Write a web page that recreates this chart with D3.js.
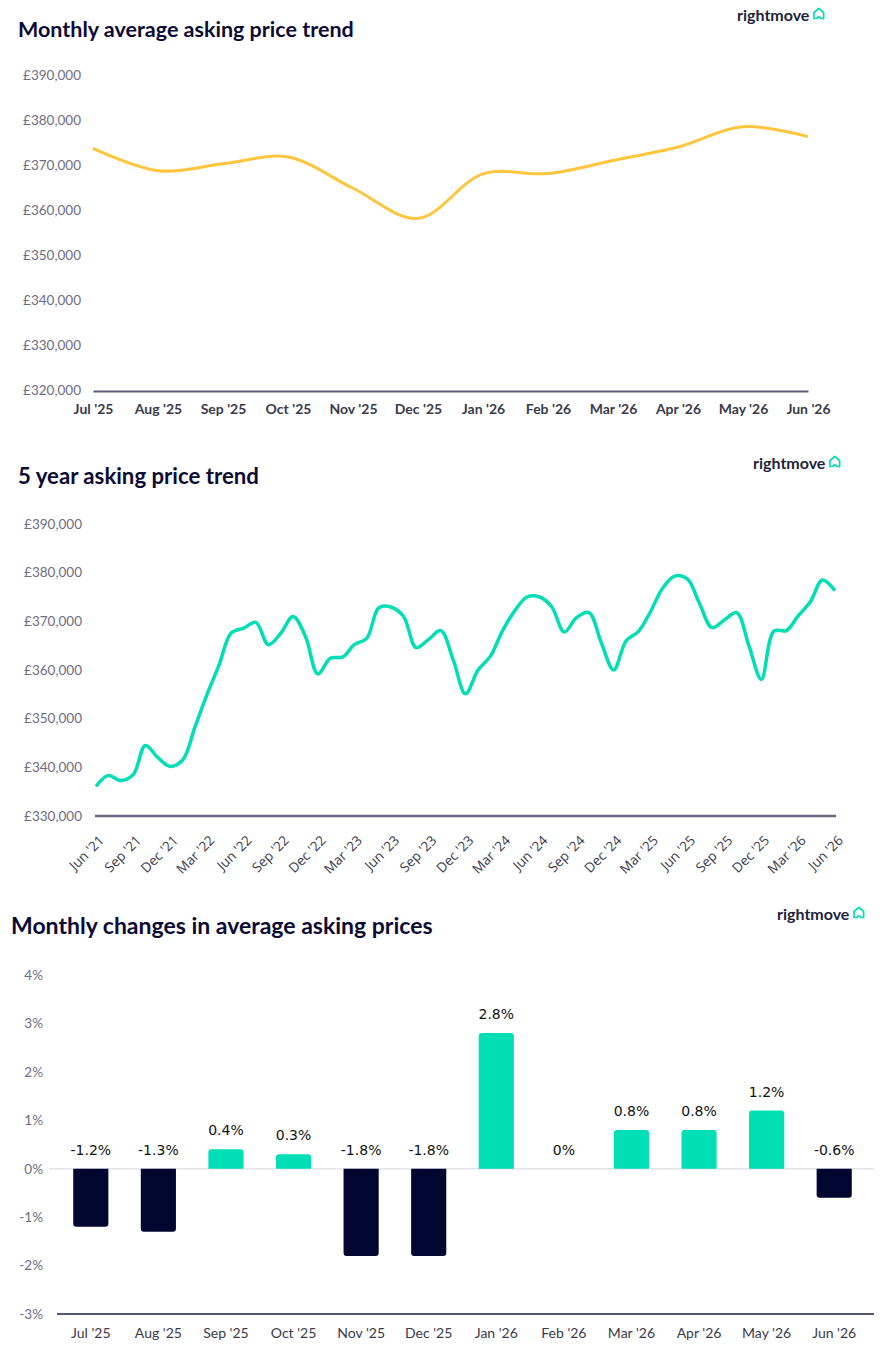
<!DOCTYPE html>
<html>
<head>
<meta charset="utf-8">
<script src="https://cdn.jsdelivr.net/npm/d3@7"></script>
<style>
  body { margin: 0; background: #fff; }
  svg text { font-family: Lato, "Open Sans", sans-serif; }
  .title { font-weight: 700; fill: #0b0b35; }
  .logo { font-size: 16px; font-weight: 700; fill: #23233a; }
  .ylab text { font-size: 13.5px; fill: #6e6d82; }
  .xlab text { font-size: 14px; fill: #3a3a4c; font-weight: 700; }
  .rot text { font-family: "Open Sans", sans-serif; font-size: 13.5px; fill: #3a3a4c; }
  .val { font-family: "DejaVu Sans", sans-serif !important; font-size: 14px; fill: #111; }
</style>
</head>
<body>
<div id="chart"></div>
<script>
// chart 1 – monthly average asking price
const monthLabels = ["Jul '25", "Aug '25", "Sep '25", "Oct '25", "Nov '25", "Dec '25",
                     "Jan '26", "Feb '26", "Mar '26", "Apr '26", "May '26", "Jun '26"];
const monthlyPrices = [373709, 368740, 370257, 371778, 364833, 358138,
                       368031, 368100, 371000, 374000, 378500, 376300];
const monthlyTicks = [320000, 330000, 340000, 350000, 360000, 370000, 380000, 390000];

// chart 2 – 5 year trend, one value a month from Jun '21 to Jun '26
const fiveYearStart = new Date(2021, 5, 1);
const fiveYearPrices = [
  336100, 338300, 337300, 338500, 344500, 342000, 340200, 341500, 348400, 354700,
  361000, 367600, 368600, 369800, 365200, 367600, 371000, 366800, 359200, 362400,
  362700, 365200, 366500, 372800, 372900, 371000, 364600, 366300, 368100, 362000,
  355100, 360000, 362900, 368000, 372200, 375000, 375000, 373000, 367800, 370800,
  371800, 365500, 360000, 366000, 368000, 371800, 376800, 379300, 378700, 373700,
  368700, 370300, 371800, 364800, 358100, 368000, 368100, 371000, 374000, 378500,
  376300];
const fiveYearTicks = [330000, 340000, 350000, 360000, 370000, 380000, 390000];

// chart 3 – monthly % change
const monthlyChanges = [-1.2, -1.3, 0.4, 0.3, -1.8, -1.8, 2.8, 0, 0.8, 0.8, 1.2, -0.6];
const changeTicks = [-3, -2, -1, 0, 1, 2, 3, 4];

const width = 890, height = 1364;
const svg = d3.select("#chart").append("svg")
    .attr("width", width)
    .attr("height", height);

const poundFmt = d => "£" + d3.format(",")(d);

function addLogo(x, y) {
  const g = svg.append("g").attr("transform", `translate(${x},${y})`);
  g.append("text").attr("class", "logo").attr("x", 0).attr("y", 0).text("rightmove");
  g.append("path")
    .attr("transform", "translate(76,-13.5)")
    .attr("d", "M1,11 V5 L5.8,0.8 L10.6,5 V11 H7.6 Q5.8,7.8 4,11 Z")
    .attr("fill", "none")
    .attr("stroke", "#00deb6")
    .attr("stroke-width", 1.7)
    .attr("stroke-linejoin", "round");
}

function addTitle(x, y, size, txt) {
  svg.append("text").attr("class", "title").attr("x", x).attr("y", y)
     .style("font-size", size + "px").text(txt);
}

// ---------- chart 1 ----------
addTitle(18, 37, 21.5, "Monthly average asking price trend");
addLogo(737, 21);

const x1 = d3.scalePoint().domain(monthLabels).range([93, 808]);
const y1 = d3.scaleLinear().domain([320000, 390000]).range([390, 75]);

svg.append("g").attr("class", "ylab")
   .attr("transform", "translate(93,0)")
   .call(d3.axisLeft(y1).tickValues(monthlyTicks).tickSize(0).tickPadding(12).tickFormat(poundFmt))
   .call(g => g.select(".domain").remove());

svg.append("g").attr("class", "xlab")
   .attr("transform", "translate(0,391)")
   .call(d3.axisBottom(x1).tickSize(0).tickPadding(13))
   .call(g => g.select(".domain").attr("stroke", "#5d5c7a").attr("stroke-width", 2));

svg.append("path")
   .datum(monthlyPrices)
   .attr("fill", "none")
   .attr("stroke", "#ffc53d")
   .attr("stroke-width", 3)
   .attr("d", d3.line()
       .x((d, i) => x1(monthLabels[i]))
       .y(d => y1(d))
       .curve(d3.curveCatmullRom.alpha(0.5)));

// ---------- chart 2 ----------
addTitle(18, 484, 22.2, "5 year asking price trend");
addLogo(753, 469);

const fiveYearDates = fiveYearPrices.map((d, i) => d3.timeMonth.offset(fiveYearStart, i));
const x2 = d3.scaleTime().domain(d3.extent(fiveYearDates)).range([96, 835]);
const y2 = d3.scaleLinear().domain([330000, 390000]).range([816, 524]);

svg.append("g").attr("class", "ylab")
   .attr("transform", "translate(95,0)")
   .call(d3.axisLeft(y2).tickValues(fiveYearTicks).tickSize(0).tickPadding(13).tickFormat(poundFmt))
   .call(g => g.select(".domain").remove());

svg.append("g").attr("class", "rot")
   .attr("transform", "translate(0,816)")
   .call(d3.axisBottom(x2)
       .tickValues(fiveYearDates.filter((d, i) => i % 3 === 0))
       .tickSize(0)
       .tickFormat(d3.timeFormat("%b '%y")))
   .call(g => g.select(".domain").attr("stroke", "#6b6a85").attr("stroke-width", 2.5)
                .attr("d", "M95,0H836"))
   .call(g => g.selectAll("text")
       .attr("y", 0).attr("dy", "0.35em")
       .attr("text-anchor", "end")
       .attr("transform", "translate(5,22) rotate(-45)"));

svg.append("path")
   .datum(fiveYearPrices)
   .attr("fill", "none")
   .attr("stroke", "#00deb6")
   .attr("stroke-width", 3.5)
   .attr("d", d3.line()
       .x((d, i) => x2(fiveYearDates[i]))
       .y(d => y2(d))
       .curve(d3.curveCatmullRom.alpha(0.5)));

// ---------- chart 3 ----------
addTitle(11, 934, 23, "Monthly changes in average asking prices");
addLogo(777, 920);

const x3 = d3.scaleBand().domain(monthLabels).range([57, 868])
    .paddingInner(0.48).paddingOuter(0.24);
const y3 = d3.scaleLinear().domain([-3, 4]).range([1314, 975]);

svg.append("g").attr("class", "ylab")
   .attr("transform", "translate(57,0)")
   .call(d3.axisLeft(y3).tickValues(changeTicks).tickSize(0).tickPadding(14).tickFormat(d => d + "%"))
   .call(g => g.select(".domain").remove());

svg.append("line")
   .attr("x1", 49).attr("x2", 874)
   .attr("y1", y3(0)).attr("y2", y3(0))
   .attr("stroke", "#e4e4ea").attr("stroke-width", 1.5);

svg.append("g").attr("class", "xlab")
   .attr("transform", `translate(0,${y3(-3)})`)
   .call(d3.axisBottom(x3).tickSize(0).tickPadding(14))
   .call(g => g.select(".domain").attr("stroke", "#1c1c48").attr("stroke-width", 1.5)
                .attr("d", "M57,0H874"))
   .call(g => g.selectAll("text").style("font-weight", 400));

function barPath(x, w, y0, y1v, r) {
  // rounded corners on the outer end only
  const up = y1v < y0;
  const h = Math.abs(y1v - y0);
  if (h < 0.5) return "";
  r = Math.min(r, h);
  if (up) {
    return `M${x},${y0}V${y1v + r}Q${x},${y1v} ${x + r},${y1v}H${x + w - r}Q${x + w},${y1v} ${x + w},${y1v + r}V${y0}Z`;
  }
  return `M${x},${y0}V${y1v - r}Q${x},${y1v} ${x + r},${y1v}H${x + w - r}Q${x + w},${y1v} ${x + w},${y1v - r}V${y0}Z`;
}

const bars = svg.append("g");
bars.selectAll("path")
   .data(monthlyChanges)
   .join("path")
   .attr("fill", d => d >= 0 ? "#00deb6" : "#000630")
   .attr("d", (d, i) => barPath(x3(monthLabels[i]), x3.bandwidth(), y3(0), y3(d), 3));

bars.selectAll("text")
   .data(monthlyChanges)
   .join("text")
   .attr("class", "val")
   .attr("text-anchor", "middle")
   .attr("x", (d, i) => x3(monthLabels[i]) + x3.bandwidth() / 2)
   .attr("y", d => y3(Math.max(d, 0)) - 14)
   .text(d => d + "%");
</script>
</body>
</html>
